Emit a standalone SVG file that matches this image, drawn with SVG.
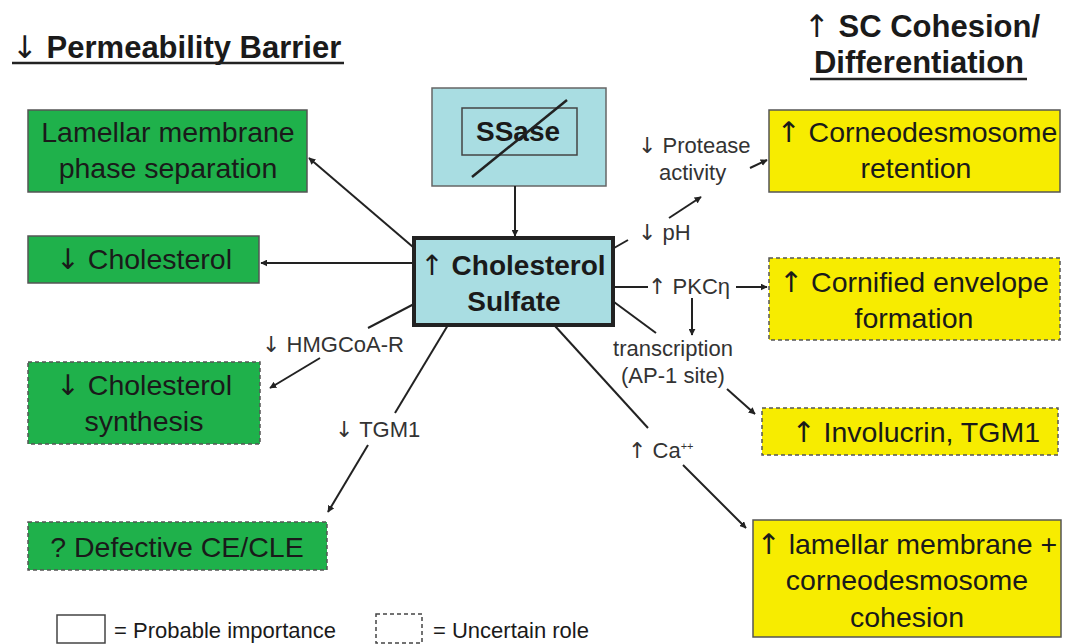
<svg xmlns="http://www.w3.org/2000/svg" width="1078" height="644" viewBox="0 0 1078 644">
<style>
.t{font-family:"Liberation Sans",Arial,sans-serif;fill:#1a1a1a}
.ar{font-family:"DejaVu Sans",sans-serif;font-weight:normal}
.h{font-size:31px;font-weight:bold}
.hc{font-size:28px;font-weight:bold}
.b{font-size:28.5px}
.l{font-size:22px;fill:#333}
.g{fill:#1fb14b;stroke:#555;stroke-width:1.5}
.y{fill:#f7ec00;stroke:#555;stroke-width:1.5}
.d{stroke-dasharray:4 3}
.c{stroke:#222;stroke-width:2;fill:none}
</style>
<defs>
<marker id="a" viewBox="0 0 10 10" refX="9" refY="5" markerWidth="7" markerHeight="7" orient="auto" markerUnits="userSpaceOnUse">
<path d="M0,0 L10,5 L0,10 z" fill="#222"/>
</marker>
</defs>
<rect width="1078" height="644" fill="#fff"/>
<g id="titles">
<text class="t h" x="12" y="58"><tspan class="ar">↓</tspan> Permeability Barrier</text>
<line x1="12" y1="63" x2="344" y2="63" stroke="#222" stroke-width="2.5"/>
<text class="t h" x="922" y="37" text-anchor="middle"><tspan class="ar">↑</tspan> SC Cohesion/</text>
<text class="t h" x="919" y="73" text-anchor="middle">Differentiation</text>
<line x1="810" y1="79" x2="1027" y2="79" stroke="#222" stroke-width="2.5"/>
</g>
<g id="ssase">
<rect x="432" y="88" width="174" height="98" fill="#a9dde2" stroke="#666" stroke-width="1.5"/>
<rect x="462" y="108" width="115" height="47" fill="none" stroke="#444" stroke-width="1.5"/>
<text class="t hc" x="518" y="141" text-anchor="middle">SSase</text>
<line x1="472" y1="177" x2="567" y2="100" stroke="#222" stroke-width="2.5"/>
</g>
<g id="cs">
<rect x="414" y="238" width="199" height="87" fill="#a9dde2" stroke="#222" stroke-width="4"/>
<text class="t hc" x="513" y="275" text-anchor="middle"><tspan class="ar">↑</tspan> Cholesterol</text>
<text class="t hc" x="514" y="311" text-anchor="middle">Sulfate</text>
</g>
<g id="lamellar">
<rect class="g" x="28" y="110" width="279" height="82"/>
<text class="t b" x="168" y="142" text-anchor="middle">Lamellar membrane</text>
<text class="t b" x="168" y="178" text-anchor="middle">phase separation</text>
</g>
<g id="chol">
<rect class="g" x="28" y="236" width="231" height="47"/>
<text class="t b" x="144" y="269" text-anchor="middle"><tspan class="ar">↓</tspan> Cholesterol</text>
</g>
<g id="cholsyn">
<rect class="g d" x="28" y="362" width="232" height="82"/>
<text class="t b" x="144" y="395" text-anchor="middle"><tspan class="ar">↓</tspan> Cholesterol</text>
<text class="t b" x="144" y="431" text-anchor="middle">synthesis</text>
</g>
<g id="defective">
<rect class="g d" x="28" y="522" width="299" height="48"/>
<text class="t b" x="177" y="557" text-anchor="middle">? Defective CE/CLE</text>
</g>
<g id="corneo">
<rect class="y" x="769" y="110" width="291" height="82"/>
<text class="t b" x="917" y="142" text-anchor="middle"><tspan class="ar">↑</tspan> Corneodesmosome</text>
<text class="t b" x="916" y="178" text-anchor="middle">retention</text>
</g>
<g id="cornified">
<rect class="y d" x="769" y="258" width="291" height="82"/>
<text class="t b" x="914" y="292" text-anchor="middle"><tspan class="ar">↑</tspan> Cornified envelope</text>
<text class="t b" x="914" y="328" text-anchor="middle">formation</text>
</g>
<g id="involucrin">
<rect class="y d" x="762" y="408" width="296" height="47"/>
<text class="t b" x="1040" y="442" text-anchor="end"><tspan class="ar">↑</tspan> Involucrin, TGM1</text>
</g>
<g id="cohesion">
<rect class="y" x="753" y="520" width="308" height="117"/>
<text class="t b" x="907" y="554" text-anchor="middle"><tspan class="ar">↑</tspan> lamellar membrane +</text>
<text class="t b" x="907" y="590" text-anchor="middle">corneodesmosome</text>
<text class="t b" x="907" y="627" text-anchor="middle">cohesion</text>
</g>
<g id="labels">
<text class="t l" x="638" y="153"><tspan class="ar">↓</tspan> Protease</text>
<text class="t l" x="659" y="180">activity</text>
<text class="t l" x="638" y="240"><tspan class="ar">↓</tspan> pH</text>
<text class="t l" x="648" y="294"><tspan class="ar">↑</tspan> PKCη</text>
<text class="t l" x="673" y="356" text-anchor="middle">transcription</text>
<text class="t l" x="673" y="383" text-anchor="middle">(AP-1 site)</text>
<text class="t l" x="628" y="458"><tspan class="ar">↑</tspan> Ca<tspan font-size="11" dy="-8">++</tspan></text>
<text class="t l" x="262" y="352"><tspan class="ar">↓</tspan> HMGCoA-R</text>
<text class="t l" x="335" y="437"><tspan class="ar">↓</tspan> TGM1</text>
</g>
<g id="connectors">
<line class="c" x1="515" y1="186" x2="515" y2="236" marker-end="url(#a)"/>
<line class="c" x1="413" y1="247" x2="309" y2="158" marker-end="url(#a)"/>
<line class="c" x1="413" y1="263" x2="261" y2="263" marker-end="url(#a)"/>
<line class="c" x1="414" y1="304" x2="368" y2="328"/>
<line class="c" x1="320" y1="358" x2="270" y2="388" marker-end="url(#a)"/>
<line class="c" x1="448" y1="325" x2="395" y2="413"/>
<line class="c" x1="368" y1="445" x2="328" y2="512" marker-end="url(#a)"/>
<line class="c" x1="614" y1="248" x2="628" y2="240"/>
<line class="c" x1="669" y1="218" x2="701" y2="197" marker-end="url(#a)"/>
<line class="c" x1="750" y1="168" x2="767" y2="160" marker-end="url(#a)"/>
<line class="c" x1="614" y1="287" x2="648" y2="287"/>
<line class="c" x1="736" y1="287" x2="767" y2="287" marker-end="url(#a)"/>
<line class="c" x1="692" y1="298" x2="692" y2="335" marker-end="url(#a)"/>
<line class="c" x1="614" y1="302" x2="656" y2="333"/>
<line class="c" x1="727" y1="389" x2="755" y2="414" marker-end="url(#a)"/>
<line class="c" x1="555" y1="326" x2="648" y2="428"/>
<line class="c" x1="683" y1="465" x2="746" y2="528" marker-end="url(#a)"/>
</g>
<g id="legend">
<rect x="57" y="615" width="48" height="28" fill="#fff" stroke="#444" stroke-width="1.5"/>
<text class="t" x="114" y="638" font-size="22" fill="#333">= Probable importance</text>
<rect x="376" y="614" width="46" height="29" fill="#fff" stroke="#444" stroke-width="1.5" stroke-dasharray="4 3"/>
<text class="t" x="433" y="638" font-size="22" fill="#333">= Uncertain role</text>
</g>
</svg>
